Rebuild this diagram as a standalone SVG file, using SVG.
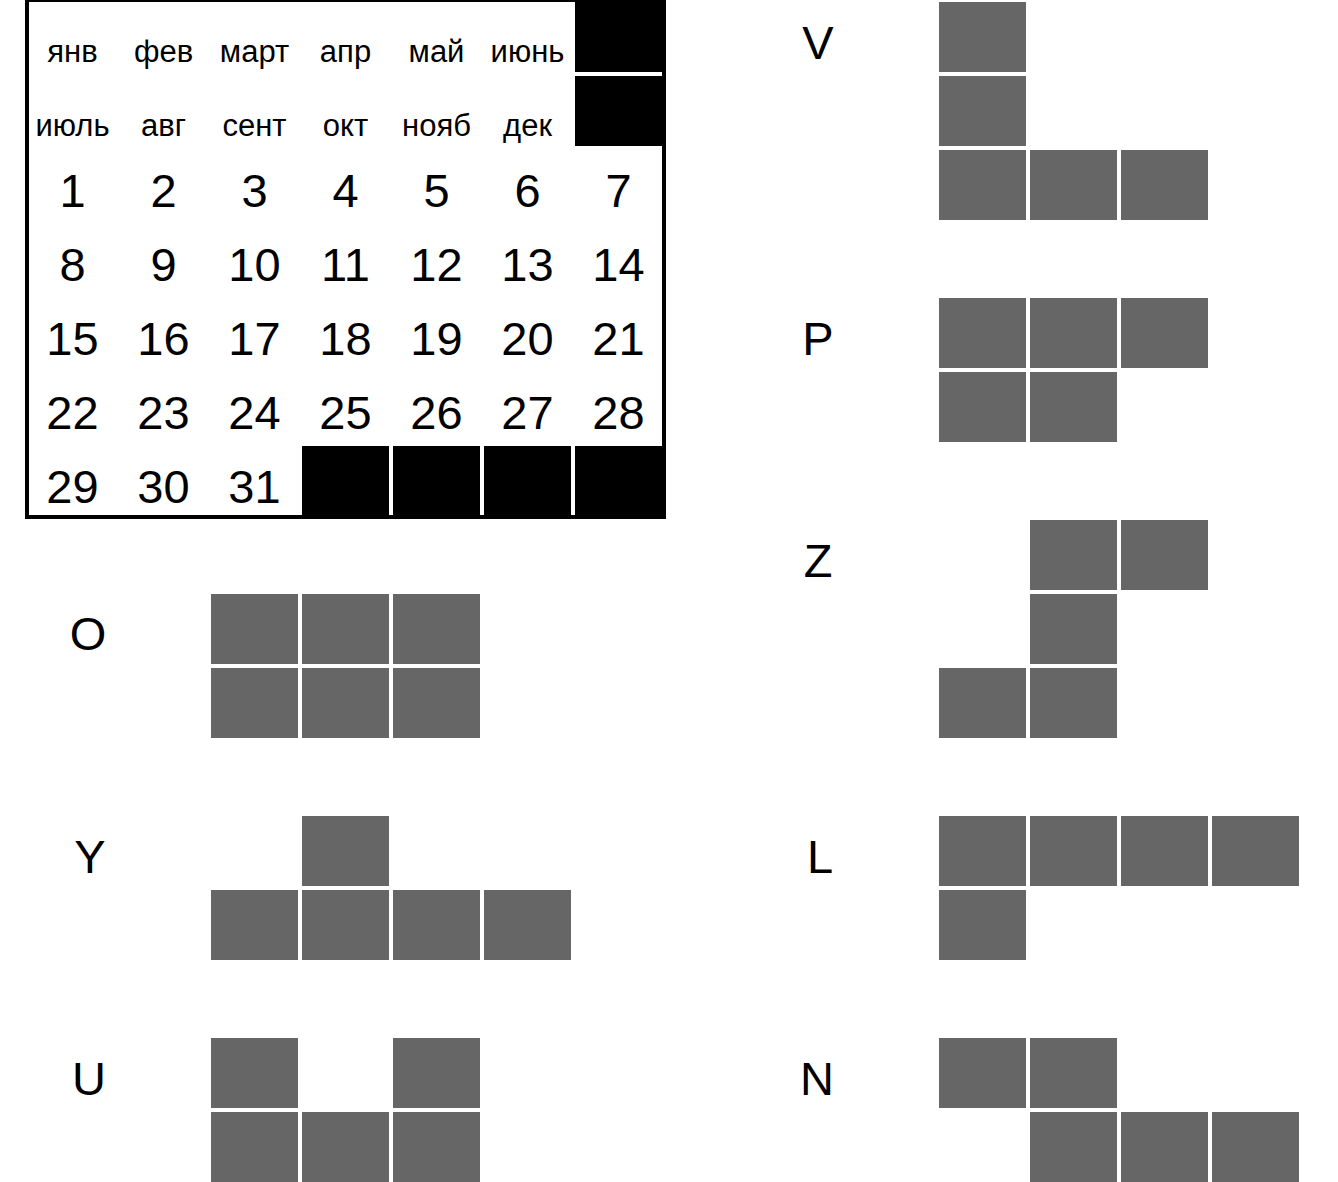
<svg xmlns="http://www.w3.org/2000/svg" width="1338" height="1182" viewBox="0 0 1338 1182">
<style>
text{font-family:"Liberation Sans",Arial,sans-serif;fill:#000;text-anchor:middle}
.m{font-size:31px}
.d{font-size:47px}
.lbl{font-size:47px}
.blk{fill:#000}
.pc{fill:#666666}
</style>
<defs>
<rect id="c" width="87" height="70"/>
</defs>
<rect width="1338" height="1182" fill="#fff"/>
<g id="calendar">
<rect x="27" y="0" width="637" height="517" fill="#fff" stroke="#000" stroke-width="4"/>
<g class="blk">
<use href="#c" x="575" y="2"/>
<use href="#c" x="575" y="76"/>
<use href="#c" x="302" y="446"/>
<use href="#c" x="393" y="446"/>
<use href="#c" x="484" y="446"/>
<use href="#c" x="575" y="446"/>
</g>
<g class="m">
<text x="72.5" y="62">янв</text><text x="163.5" y="62">фев</text><text x="254.5" y="62">март</text><text x="345.5" y="62">апр</text><text x="436.5" y="62">май</text><text x="527.5" y="62">июнь</text>
<text x="72.5" y="136">июль</text><text x="163.5" y="136">авг</text><text x="254.5" y="136">сент</text><text x="345.5" y="136">окт</text><text x="436.5" y="136">нояб</text><text x="527.5" y="136">дек</text>
</g>
<g class="d">
<text x="72.5" y="207">1</text><text x="163.5" y="207">2</text><text x="254.5" y="207">3</text><text x="345.5" y="207">4</text><text x="436.5" y="207">5</text><text x="527.5" y="207">6</text><text x="618.5" y="207">7</text>
<text x="72.5" y="281">8</text><text x="163.5" y="281">9</text><text x="254.5" y="281">10</text><text x="345.5" y="281">11</text><text x="436.5" y="281">12</text><text x="527.5" y="281">13</text><text x="618.5" y="281">14</text>
<text x="72.5" y="355">15</text><text x="163.5" y="355">16</text><text x="254.5" y="355">17</text><text x="345.5" y="355">18</text><text x="436.5" y="355">19</text><text x="527.5" y="355">20</text><text x="618.5" y="355">21</text>
<text x="72.5" y="429">22</text><text x="163.5" y="429">23</text><text x="254.5" y="429">24</text><text x="345.5" y="429">25</text><text x="436.5" y="429">26</text><text x="527.5" y="429">27</text><text x="618.5" y="429">28</text>
<text x="72.5" y="503">29</text><text x="163.5" y="503">30</text><text x="254.5" y="503">31</text>
</g>
</g>
<g id="piece-V">
<text class="lbl" x="818" y="59">V</text>
<g class="pc"><use href="#c" x="939" y="2"/><use href="#c" x="939" y="76"/><use href="#c" x="939" y="150"/><use href="#c" x="1030" y="150"/><use href="#c" x="1121" y="150"/></g>
</g>
<g id="piece-P">
<text class="lbl" x="818" y="355">P</text>
<g class="pc"><use href="#c" x="939" y="298"/><use href="#c" x="1030" y="298"/><use href="#c" x="1121" y="298"/><use href="#c" x="939" y="372"/><use href="#c" x="1030" y="372"/></g>
</g>
<g id="piece-Z">
<text class="lbl" x="818" y="577">Z</text>
<g class="pc"><use href="#c" x="1030" y="520"/><use href="#c" x="1121" y="520"/><use href="#c" x="1030" y="594"/><use href="#c" x="939" y="668"/><use href="#c" x="1030" y="668"/></g>
</g>
<g id="piece-L">
<text class="lbl" x="820" y="873">L</text>
<g class="pc"><use href="#c" x="939" y="816"/><use href="#c" x="1030" y="816"/><use href="#c" x="1121" y="816"/><use href="#c" x="1212" y="816"/><use href="#c" x="939" y="890"/></g>
</g>
<g id="piece-N">
<text class="lbl" x="817" y="1095">N</text>
<g class="pc"><use href="#c" x="939" y="1038"/><use href="#c" x="1030" y="1038"/><use href="#c" x="1030" y="1112"/><use href="#c" x="1121" y="1112"/><use href="#c" x="1212" y="1112"/></g>
</g>
<g id="piece-O">
<text class="lbl" x="88" y="650">O</text>
<g class="pc"><use href="#c" x="211" y="594"/><use href="#c" x="302" y="594"/><use href="#c" x="393" y="594"/><use href="#c" x="211" y="668"/><use href="#c" x="302" y="668"/><use href="#c" x="393" y="668"/></g>
</g>
<g id="piece-Y">
<text class="lbl" x="90" y="873">Y</text>
<g class="pc"><use href="#c" x="302" y="816"/><use href="#c" x="211" y="890"/><use href="#c" x="302" y="890"/><use href="#c" x="393" y="890"/><use href="#c" x="484" y="890"/></g>
</g>
<g id="piece-U">
<text class="lbl" x="89" y="1095">U</text>
<g class="pc"><use href="#c" x="211" y="1038"/><use href="#c" x="393" y="1038"/><use href="#c" x="211" y="1112"/><use href="#c" x="302" y="1112"/><use href="#c" x="393" y="1112"/></g>
</g>
<g id="connectors"/>
</svg>
